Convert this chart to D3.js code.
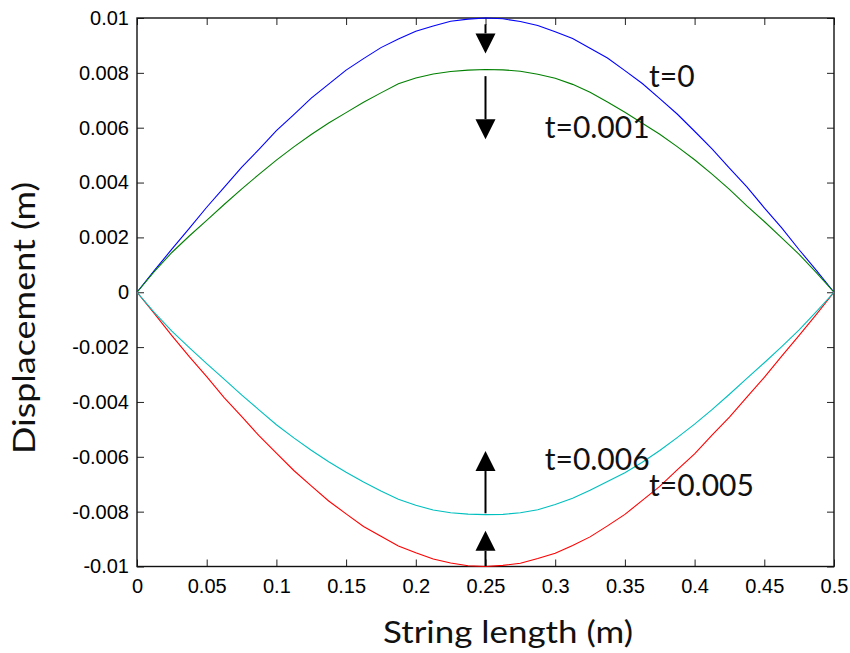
<!DOCTYPE html>
<meta charset="utf-8">
<script src="https://d3js.org/d3.v7.min.js"></script>
<style>
  body { margin: 0; background: #fff; }
  .tick text { font-family: "Liberation Sans", Arial, sans-serif; font-size: 20px; fill: #000; }
  .title { font-family: Lato, "DejaVu Sans", sans-serif; fill: #111; }
</style>
<div id="chart"></div>
<script>
// string positions (m)
var xs = [0, 0.0125, 0.025, 0.0375, 0.05, 0.0625, 0.075, 0.0875, 0.1, 0.1125,
  0.125, 0.1375, 0.15, 0.1625, 0.175, 0.1875, 0.2, 0.2125, 0.225, 0.2375,
  0.25, 0.2625, 0.275, 0.2875, 0.3, 0.3125, 0.325, 0.3375, 0.35, 0.3625,
  0.375, 0.3875, 0.4, 0.4125, 0.425, 0.4375, 0.45, 0.4625, 0.475, 0.4875, 0.5];

// displacement (m)
var t0 = [0, 0.00080, 0.00157, 0.00233, 0.00310, 0.00382, 0.00455, 0.00521, 0.00589, 0.00648,
  0.00708, 0.00759, 0.00810, 0.00852, 0.00892, 0.00923, 0.00952, 0.00971, 0.00988, 0.00996,
  0.01000, 0.00997, 0.00987, 0.00973, 0.00950, 0.00925, 0.00890, 0.00854, 0.00808, 0.00761,
  0.00706, 0.00650, 0.00587, 0.00523, 0.00453, 0.00384, 0.00308, 0.00235, 0.00155, 0.00079, 0];
var t001 = [0, 0.00076, 0.00145, 0.00205, 0.00262, 0.00320, 0.00376, 0.00430, 0.00482, 0.00530,
  0.00575, 0.00617, 0.00655, 0.00693, 0.00727, 0.00760, 0.00781, 0.00796, 0.00805, 0.00810,
  0.00812, 0.00811, 0.00806, 0.00795, 0.00780, 0.00758, 0.00729, 0.00694, 0.00656, 0.00616,
  0.00576, 0.00531, 0.00483, 0.00431, 0.00375, 0.00315, 0.00258, 0.00198, 0.00138, 0.00071, 0];
var t005 = [0, -0.00078, -0.00158, -0.00235, -0.00308, -0.00384, -0.00453, -0.00523, -0.00587, -0.00650,
  -0.00706, -0.00761, -0.00808, -0.00854, -0.00890, -0.00925, -0.00950, -0.00973, -0.00987, -0.00997,
  -0.01000, -0.00996, -0.00988, -0.00971, -0.00952, -0.00923, -0.00892, -0.00852, -0.00810, -0.00759,
  -0.00708, -0.00648, -0.00589, -0.00521, -0.00455, -0.00382, -0.00310, -0.00233, -0.00157, -0.00080, 0];
var t006 = [0, -0.00074, -0.00142, -0.00202, -0.00260, -0.00317, -0.00374, -0.00429, -0.00483, -0.00531,
  -0.00576, -0.00618, -0.00656, -0.00692, -0.00725, -0.00755, -0.00777, -0.00794, -0.00804, -0.00809,
  -0.00811, -0.00810, -0.00804, -0.00793, -0.00774, -0.00751, -0.00722, -0.00690, -0.00658, -0.00620,
  -0.00577, -0.00530, -0.00481, -0.00428, -0.00372, -0.00314, -0.00257, -0.00198, -0.00137, -0.00070, 0];

var seriesNames = ["t=0", "t=0.001", "t=0.005", "t=0.006"];
var seriesValues = [t0, t001, t005, t006];
var seriesColors = ["#0000ff", "#008000", "#ff0000", "#00bfbf"];

var xTicks = [0, 0.05, 0.1, 0.15, 0.2, 0.25, 0.3, 0.35, 0.4, 0.45, 0.5];
var xTickLabels = ["0", "0.05", "0.1", "0.15", "0.2", "0.25", "0.3", "0.35", "0.4", "0.45", "0.5"];
var yTicks = [-0.01, -0.008, -0.006, -0.004, -0.002, 0, 0.002, 0.004, 0.006, 0.008, 0.01];
var yTickLabels = ["-0.01", "-0.008", "-0.006", "-0.004", "-0.002", "0", "0.002", "0.004", "0.006", "0.008", "0.01"];

// text labels and arrows, in data units
var labelText = ["t=0", "t=0.001", "t=0.006", "t=0.005"];
var labelX = [0.3673, 0.2925, 0.2925, 0.3673];
var labelY = [0.00747, 0.00562, -0.00649, -0.00744];
var arrowX = [0.25, 0.25, 0.25, 0.25];
var arrowFrom = [0.00977, 0.00788, -0.00806, -0.00999];
var arrowTo = [0.00871, 0.00558, -0.00579, -0.00870];

var W = 850, H = 653;
var margin = {top: 18, right: 16, bottom: 86.5, left: 137};
var width = W - margin.left - margin.right,
    height = H - margin.top - margin.bottom;

var svg = d3.select("#chart").append("svg")
    .attr("width", W)
    .attr("height", H);
var g = svg.append("g")
    .attr("transform", "translate(" + margin.left + "," + margin.top + ")");

var x = d3.scaleLinear().domain([0, 0.5]).range([0, width]);
var y = d3.scaleLinear().domain([-0.01, 0.01]).range([height, 0]);

// axes with inward ticks, mirrored on top and right
g.append("g")
    .attr("transform", "translate(0," + height + ")")
    .call(d3.axisBottom(x).tickValues(xTicks)
      .tickFormat(function(d, i) { return xTickLabels[i]; })
      .tickSizeInner(-7).tickSizeOuter(0).tickPadding(12));
g.append("g")
    .call(d3.axisTop(x).tickValues(xTicks).tickFormat("")
      .tickSizeInner(-7).tickSizeOuter(0));
g.append("g")
    .call(d3.axisLeft(y).tickValues(yTicks)
      .tickFormat(function(d, i) { return yTickLabels[i]; })
      .tickSizeInner(-7).tickSizeOuter(0).tickPadding(8));
g.append("g")
    .attr("transform", "translate(" + width + ",0)")
    .call(d3.axisRight(y).tickValues(yTicks).tickFormat("")
      .tickSizeInner(-7).tickSizeOuter(0));
g.selectAll(".domain").remove();
g.selectAll(".tick line").attr("stroke", "#222");

g.append("rect")
    .attr("width", width)
    .attr("height", height)
    .attr("fill", "none")
    .attr("stroke", "#111")
    .attr("stroke-width", 1.4);

// curves
var line = d3.line()
    .x(function(d, i) { return x(xs[i]); })
    .y(function(d) { return y(d); });

g.selectAll(".curve")
  .data(seriesValues)
  .enter().append("path")
    .attr("class", "curve")
    .attr("d", line)
    .attr("fill", "none")
    .attr("stroke", function(d, i) { return seriesColors[i]; })
    .attr("stroke-width", 1.1);

// arrows
var headLen = 20, headHalf = 10;
arrowX.forEach(function(ax, i) {
  var px = x(ax), y0 = y(arrowFrom[i]), y1 = y(arrowTo[i]);
  var dir = y1 > y0 ? 1 : -1;
  g.append("line")
    .attr("x1", px).attr("x2", px)
    .attr("y1", y0).attr("y2", y1 - dir * headLen)
    .attr("stroke", "#000")
    .attr("stroke-width", 2);
  g.append("path")
    .attr("d", "M" + px + "," + y1 +
               "L" + (px - headHalf) + "," + (y1 - dir * headLen) +
               "L" + (px + headHalf) + "," + (y1 - dir * headLen) + "Z")
    .attr("fill", "#000");
});

// annotations
g.selectAll(".note")
  .data(labelText)
  .enter().append("text")
    .attr("class", "title")
    .attr("x", function(d, i) { return x(labelX[i]); })
    .attr("y", function(d, i) { return y(labelY[i]); })
    .attr("font-size", 30)
    .text(function(d) { return d; });

// axis titles
svg.append("text")
    .attr("class", "title")
    .attr("x", 508)
    .attr("y", 643)
    .attr("text-anchor", "middle")
    .attr("font-size", 31)
    .attr("textLength", 250)
    .attr("lengthAdjust", "spacingAndGlyphs")
    .text("String length (m)");

svg.append("text")
    .attr("class", "title")
    .attr("transform", "translate(35,318) rotate(-90)")
    .attr("text-anchor", "middle")
    .attr("font-size", 31)
    .attr("textLength", 272)
    .attr("lengthAdjust", "spacingAndGlyphs")
    .text("Displacement (m)");
</script>
